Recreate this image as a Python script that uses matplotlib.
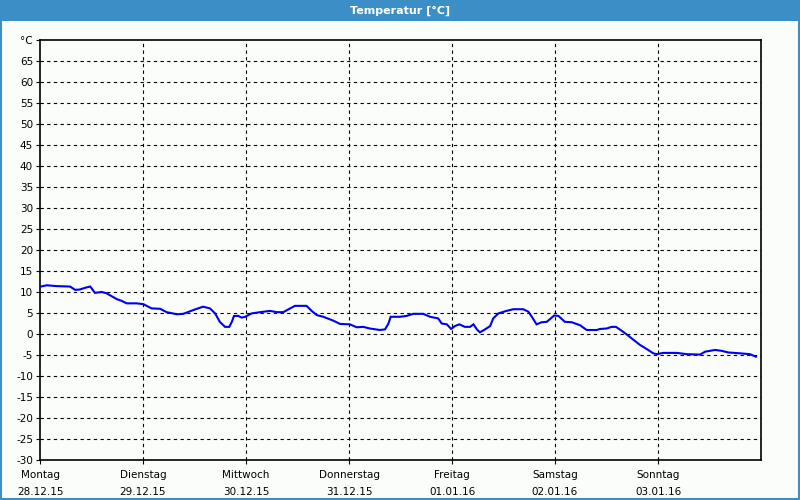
import matplotlib
matplotlib.use("Agg")
import matplotlib.pyplot as plt
from matplotlib.patches import Rectangle

# --- data (hours since Mon 28.12.15 00:00, temperature °C) ---
hours = [0.2, 1.6, 3.9, 7.0, 8.2, 9.3, 10.5, 11.7, 12.8, 14.4, 15.5, 17.9, 19.0, 20.2,
         22.5, 24.1, 26.0, 28.0, 29.5, 31.9, 33.4, 35.7, 38.0, 39.6, 40.8, 41.9, 43.1,
         44.1, 44.7, 45.2, 46.2, 47.0, 47.8, 49.3, 51.3, 53.6, 55.2, 56.7, 58.3, 59.4,
         61.7, 62.1, 63.3, 64.5, 66.0, 68.3, 69.9, 72.2, 73.8, 75.3, 76.9, 79.2, 80.4,
         81.2, 81.7, 83.9, 85.4, 87.0, 89.3, 90.9, 92.8, 93.6, 94.8, 95.8, 96.7, 97.7,
         99.0, 100.2, 101.0, 101.8, 102.5, 103.7, 104.9, 105.6, 106.8, 108.7, 110.3,
         112.6, 113.8, 114.6, 115.7, 116.9, 118.1, 119.8, 120.8, 122.3, 123.9, 125.8,
         127.4, 129.7, 130.5, 132.0, 133.2, 134.2, 135.5, 136.7, 138.3, 139.8, 141.4,
         142.9, 143.7, 145.2, 148.4, 150.7, 153.8, 155.0, 157.3, 158.8, 160.4, 163.1,
         165.4, 166.8]
temps = [11.3, 11.6, 11.4, 11.3, 10.5, 10.6, 11.0, 11.3, 9.8, 10.0, 9.7, 8.3, 7.9, 7.3,
         7.3, 7.1, 6.1, 6.0, 5.2, 4.7, 4.8, 5.7, 6.5, 6.1, 4.9, 2.9, 1.7,
         1.7, 2.9, 4.3, 4.3, 3.9, 4.1, 4.9, 5.2, 5.5, 5.2, 5.2, 6.1, 6.7,
         6.7, 6.7, 5.5, 4.5, 4.1, 3.2, 2.4, 2.3, 1.6, 1.7, 1.3, 0.95, 1.1,
         2.5, 4.1, 4.1, 4.3, 4.8, 4.8, 4.1, 3.7, 2.5, 2.3, 1.2, 1.9, 2.3,
         1.7, 1.7, 2.3, 1.1, 0.4, 1.1, 1.9, 3.7, 4.9, 5.5, 5.9,
         5.9, 5.3, 4.1, 2.3, 2.8, 2.9, 4.4, 4.3, 2.9, 2.8, 2.1,
         0.95, 0.95, 1.2, 1.3, 1.7, 1.7, 0.8, -0.1, -1.4, -2.6, -3.6,
         -4.6, -4.8, -4.5, -4.5, -4.8, -4.9, -4.2, -3.8, -4.0, -4.4, -4.6,
         -4.8, -5.4]
day_names = ["Montag", "Dienstag", "Mittwoch", "Donnerstag", "Freitag", "Samstag", "Sonntag"]
day_dates = ["28.12.15", "29.12.15", "30.12.15", "31.12.15", "01.01.16", "02.01.16", "03.01.16"]
y_ticks = list(range(-30, 70, 5))
title = "Temperatur [°C]"

bg = "#FBFDFB"
blue_bar = "#3C8FC6"

fig = plt.figure(figsize=(8, 5), dpi=100, facecolor=bg)

# title bar and border
fig.patches.append(Rectangle((0, 1 - 21 / 500), 1, 21 / 500, transform=fig.transFigure,
                             facecolor=blue_bar, edgecolor="none", zorder=0))
fig.patches.append(Rectangle((0.001, 0.002), 0.998, 0.996, transform=fig.transFigure,
                             facecolor="none", edgecolor=blue_bar, linewidth=1.5, zorder=0))
fig.text(0.5, 1 - 10.5 / 500, title, color="white", ha="center", va="center",
         fontsize=8, fontweight="bold", family="DejaVu Sans")

ax = fig.add_axes([40 / 800, 40 / 500, 721 / 800, 420 / 500])
ax.set_facecolor(bg)
days = [h / 24 for h in hours]
ax.plot(days, temps, color="#0000F0", linewidth=1.5, solid_joinstyle="miter", zorder=3)

ax.set_xlim(0, 7)
ax.set_ylim(-30, 70)
ax.set_yticks(y_ticks + [70])
ax.set_yticklabels([str(v) for v in y_ticks] + ["°C"])
ax.set_xticks(range(7))
ax.set_xticklabels([f"{n}\n{d}" for n, d in zip(day_names, day_dates)], linespacing=1.9)

for v in y_ticks[1:]:
    ax.axhline(v, color="black", linewidth=0.8, linestyle=(0, (3, 3)), zorder=1)
for d in range(1, 7):
    ax.axvline(d, color="black", linewidth=0.8, linestyle=(0, (3, 3)), zorder=1)

for s in ax.spines.values():
    s.set_linewidth(1.2)
    s.set_color("black")
ax.tick_params(axis="both", length=3, width=0.8, labelsize=7.5, colors="black", pad=2)
ax.tick_params(axis="x", pad=4)

fig.savefig("out.png", dpi=100, facecolor=bg)
